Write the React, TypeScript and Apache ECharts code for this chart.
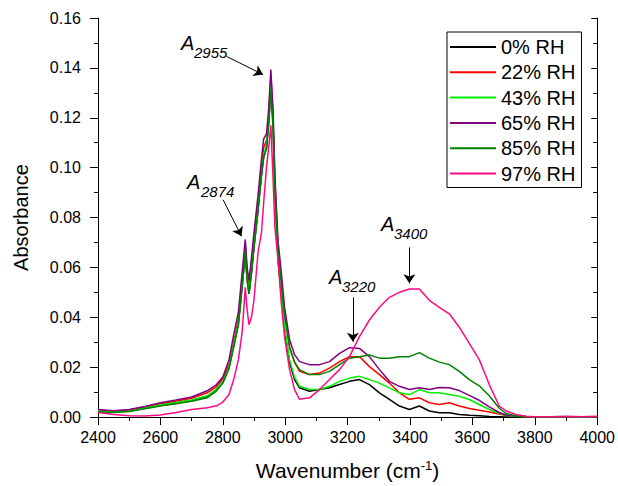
import React, { useEffect, useRef } from "react";
import * as echarts from "echarts";

const WAVENUMBERS = [
  2400, 2450, 2500, 2550, 2600, 2650, 2700, 2750, 2780, 2800,
  2820, 2835, 2850, 2862, 2872, 2878, 2884, 2892, 2900, 2913,
  2924, 2931, 2940, 2947, 2954, 2961, 2967, 2977, 2988, 2998,
  3014, 3030, 3046, 3078, 3110, 3142, 3174, 3206, 3238, 3270,
  3302, 3334, 3366, 3398, 3430, 3462, 3494, 3526, 3558, 3590,
  3622, 3654, 3686, 3708, 3740, 3772, 3800, 3850, 3900, 3950,
  4000,
];

const RH0 = [
  0.0025, 0.002, 0.0024, 0.0035, 0.0046, 0.0056, 0.0066, 0.0082, 0.011, 0.0138,
  0.0198, 0.0285, 0.0375, 0.0525, 0.065, 0.055, 0.0495, 0.058, 0.068, 0.083,
  0.097, 0.104, 0.108, 0.118, 0.132, 0.117, 0.09, 0.063, 0.048, 0.035,
  0.022, 0.015, 0.0117, 0.0103, 0.011, 0.0117, 0.013, 0.0143, 0.015, 0.013,
  0.0097, 0.0071, 0.0044, 0.003, 0.0044, 0.0024, 0.0017, 0.0017, 0.001, 0.0007,
  0.0005, 0.0002, 0.0001, 0, 0, 0, 0, 0, 0.0001, 0,
  0,
];

const RH22 = [
  0.0028, 0.0022, 0.0027, 0.004, 0.0052, 0.0063, 0.0075, 0.0097, 0.0122, 0.0152,
  0.021, 0.03, 0.039, 0.055, 0.069, 0.058, 0.052, 0.061, 0.071, 0.086,
  0.1, 0.108, 0.111, 0.121, 0.1365, 0.121, 0.094, 0.068, 0.054, 0.041,
  0.028, 0.022, 0.0183, 0.017, 0.0176, 0.0196, 0.0222, 0.0242, 0.0242, 0.0202,
  0.017, 0.0136, 0.0097, 0.0071, 0.0077, 0.0057, 0.005, 0.0057, 0.0044, 0.0034,
  0.0027, 0.002, 0.0012, 0.0006, 0.0003, 0.0001, 0, 0, 0.0001, 0,
  0.0001,
];

const RH43 = [
  0.0025, 0.002, 0.0024, 0.0036, 0.0048, 0.0058, 0.0068, 0.0085, 0.0112, 0.014,
  0.02, 0.029, 0.038, 0.053, 0.0665, 0.056, 0.05, 0.059, 0.069, 0.084,
  0.098, 0.105, 0.109, 0.119, 0.1335, 0.118, 0.091, 0.064, 0.049, 0.036,
  0.023, 0.016, 0.0123, 0.011, 0.011, 0.0123, 0.0143, 0.0156, 0.0163, 0.015,
  0.0136, 0.0117, 0.0097, 0.009, 0.011, 0.0097, 0.0097, 0.009, 0.0083, 0.007,
  0.005, 0.003, 0.0015, 0.0007, 0.0003, 0.0001, 0, 0, 0.0001, 0,
  0.0001,
];

const RH65 = [
  0.003, 0.0025, 0.003, 0.0042, 0.0057, 0.0068, 0.008, 0.0105, 0.013, 0.016,
  0.023, 0.033, 0.042, 0.058, 0.0712, 0.06, 0.0548, 0.064, 0.074, 0.089,
  0.1036, 0.1115, 0.1135, 0.1235, 0.1393, 0.1235, 0.097, 0.0707, 0.0573, 0.044,
  0.031, 0.025, 0.0222, 0.021, 0.021, 0.0222, 0.0255, 0.0278, 0.0275, 0.0242,
  0.019, 0.0143, 0.0123, 0.011, 0.0117, 0.011, 0.0118, 0.0117, 0.0106, 0.0087,
  0.0067, 0.0041, 0.0018, 0.0008, 0.0004, 0.0002, 0.0001, 0.0001, 0.0002, 0.0001,
  0.0002,
];

const RH85 = [
  0.002, 0.0018, 0.0022, 0.0033, 0.0044, 0.0053, 0.0063, 0.0077, 0.0105, 0.0136,
  0.0195, 0.028, 0.037, 0.052, 0.0667, 0.055, 0.0494, 0.058, 0.068, 0.083,
  0.097, 0.1045, 0.1076, 0.117, 0.131, 0.117, 0.092, 0.067, 0.053, 0.041,
  0.028, 0.022, 0.019, 0.017, 0.017, 0.0183, 0.021, 0.0236, 0.0242, 0.0249,
  0.0236, 0.0236, 0.0242, 0.0242, 0.0258, 0.0236, 0.022, 0.021, 0.0183, 0.015,
  0.0125, 0.0085, 0.0035, 0.0014, 0.0004, 0.0002, 0.0001, 0, 0.0001, 0,
  0.0001,
];

const RH97 = [
  0.0018, 0.001, 0.0005, 0.0004, 0.0008, 0.0018, 0.003, 0.0037, 0.0045, 0.006,
  0.009, 0.015, 0.023, 0.034, 0.052, 0.043, 0.037, 0.04, 0.047, 0.066,
  0.074, 0.086, 0.1, 0.108, 0.117, 0.096, 0.076, 0.063, 0.045, 0.032,
  0.019, 0.011, 0.0071, 0.0077, 0.011, 0.015, 0.019, 0.0242, 0.0322, 0.0389,
  0.044, 0.048, 0.05, 0.0513, 0.0513, 0.0468, 0.044, 0.0414, 0.036, 0.0295,
  0.023, 0.013, 0.0044, 0.0024, 0.001, 0.0003, 0.0001, 0.0001, 0.0002, 0.0001,
  0.0002,
];

const SERIES_NAMES = ["0% RH", "22% RH", "43% RH", "65% RH", "85% RH", "97% RH"];
const SERIES_VALUES = [RH0, RH22, RH43, RH65, RH85, RH97];
const SERIES_COLORS = ["#000000", "#ff0000", "#00f000", "#800080", "#008000", "#ff0a80"];

// annotation arrows [start, end] in data coordinates
const ARROWS = [
  [[2812, 0.1446], [2929, 0.1373]],
  [[2801, 0.0871], [2860, 0.0725]],
  [[3217, 0.048], [3217, 0.0302]],
  [[3398, 0.068], [3398, 0.0536]],
];

const PEAK_LABELS = ["2955", "2874", "3220", "3400"];

const FONT = '"Liberation Sans", Arial, Helvetica, sans-serif';

export default function App() {
  const ref = useRef<HTMLDivElement>(null);

  useEffect(() => {
    if (!ref.current) return;
    const chart = echarts.init(ref.current, undefined, { renderer: "svg" });

    const series: any[] = SERIES_NAMES.map((name, k) => ({
      name,
      type: "line",
      data: WAVENUMBERS.map((w, i) => [w, SERIES_VALUES[k][i]]),
      symbol: "none",
      showSymbol: false,
      lineStyle: { color: SERIES_COLORS[k], width: 1.5 },
      itemStyle: { color: SERIES_COLORS[k] },
      silent: true,
      z: 2 + k,
    }));

    series[series.length - 1].markLine = {
      silent: true,
      symbol: ["none", "arrow"],
      symbolSize: 9,
      label: { show: false },
      lineStyle: { color: "#000", width: 1, type: "solid" },
      emphasis: { disabled: true },
      data: ARROWS.map(([a, b]) => [{ coord: a }, { coord: b }]),
    };

    const annText = (x: number, y: number, text: string, size: number) => ({
      type: "text",
      x,
      y,
      style: {
        text,
        fill: "#000",
        font: `italic ${size}px ${FONT}`,
        verticalAlign: "top",
        align: "left",
      },
    });

    const labelPos = [
      [181, 33, 194, 45],
      [187, 172, 201, 184],
      [329, 267, 342, 279],
      [381, 214, 394, 226],
    ];

    const graphics: any[] = [];
    PEAK_LABELS.forEach((lab, i) => {
      const [ax, ay, sx, sy] = labelPos[i];
      graphics.push(annText(ax, ay, "A", 20));
      graphics.push(annText(sx, sy, lab, 15));
    });

    const common = {
      type: "value",
      axisLine: { show: true, lineStyle: { color: "#000", width: 1 } },
      splitLine: { show: false },
    };

    chart.setOption({
      animation: false,
      backgroundColor: "#fff",
      textStyle: { fontFamily: FONT },
      grid: { left: 98, right: 20, top: 18, bottom: 65, containLabel: false },
      legend: {
        data: SERIES_NAMES.map((name) => ({ name, icon: "rect" })),
        orient: "vertical",
        left: 447,
        top: 32,
        itemWidth: 46,
        itemHeight: 2,
        itemGap: 5.3,
        padding: [5, 6, 4, 3],
        borderColor: "#000",
        borderWidth: 1,
        borderRadius: 0,
        backgroundColor: "#fff",
        selectedMode: false,
        textStyle: { fontSize: 20, color: "#000", fontFamily: FONT, lineHeight: 20 },
      },
      xAxis: [
        {
          ...common,
          position: "bottom",
          min: 2400,
          max: 4000,
          interval: 200,
          name: "Wavenumber (cm{sup|-1})",
          nameLocation: "middle",
          nameGap: 42,
          nameTextStyle: {
            fontSize: 21,
            color: "#000",
            fontFamily: FONT,
            rich: { sup: { fontSize: 13, verticalAlign: "top", padding: [0, 0, 10, 0], fontFamily: FONT } },
          },
          axisTick: { show: true, inside: false, length: 8, lineStyle: { color: "#000" } },
          minorTick: { show: true, splitNumber: 2, length: 4, lineStyle: { color: "#000" } },
          axisLabel: {
            fontSize: 16,
            color: "#000",
            margin: 12,
            fontFamily: FONT,
            formatter: (v: number) => String(v),
          },
        },
        {
          ...common,
          position: "top",
          min: 2400,
          max: 4000,
          interval: 200,
          axisTick: { show: true, inside: true, length: 6, lineStyle: { color: "#000" } },
          minorTick: { show: true, splitNumber: 2, length: 4, lineStyle: { color: "#000" } },
          axisLabel: { show: false },
        },
      ],
      yAxis: [
        {
          ...common,
          position: "left",
          min: 0,
          max: 0.16,
          interval: 0.02,
          name: "Absorbance",
          nameLocation: "middle",
          nameGap: 67,
          nameTextStyle: { fontSize: 20, color: "#000", fontFamily: FONT },
          axisTick: { show: true, inside: false, length: 8, lineStyle: { color: "#000" } },
          minorTick: { show: true, splitNumber: 2, length: 4, lineStyle: { color: "#000" } },
          axisLabel: {
            fontSize: 16,
            color: "#000",
            margin: 17,
            fontFamily: FONT,
            formatter: (v: number) => v.toFixed(2),
          },
        },
        {
          ...common,
          position: "right",
          min: 0,
          max: 0.16,
          interval: 0.02,
          axisTick: { show: true, inside: true, length: 6, lineStyle: { color: "#000" } },
          minorTick: { show: true, splitNumber: 2, length: 4, lineStyle: { color: "#000" } },
          axisLabel: { show: false },
        },
      ],
      series,
      graphic: graphics,
    });

    return () => chart.dispose();
  }, []);

  return <div ref={ref} style={{ width: 618, height: 486, position: "absolute", left: 0, top: 0 }} />;
}
